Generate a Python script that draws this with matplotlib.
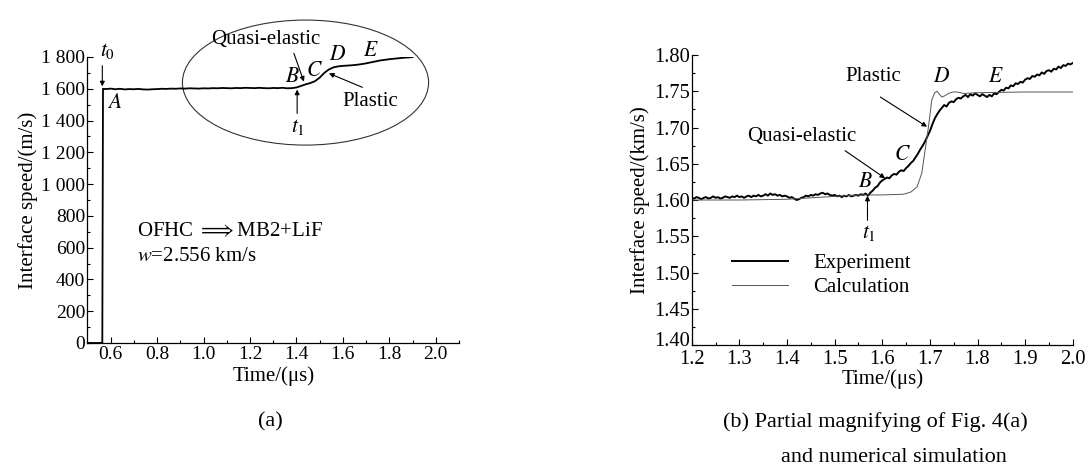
import numpy as np
import matplotlib
matplotlib.use("Agg")
import matplotlib.pyplot as plt
import matplotlib.transforms as mtransforms
from matplotlib.patches import Ellipse
from matplotlib.ticker import MultipleLocator, FixedLocator, FixedFormatter

plt.rcParams['font.family'] = ['Liberation Serif', 'DejaVu Serif']
plt.rcParams['mathtext.fontset'] = 'stix'

# ---------------- data: panel (a) ----------------
time_a = [0.50, 0.564, 0.567,
          0.58, 0.60, 0.62, 0.64, 0.66, 0.68, 0.70, 0.72, 0.74, 0.76, 0.78,
          0.80, 0.82, 0.84, 0.86, 0.88, 0.90, 0.92, 0.94, 0.96, 0.98,
          1.00, 1.02, 1.04, 1.06, 1.08, 1.10, 1.12, 1.14, 1.16, 1.18,
          1.20, 1.22, 1.24, 1.26, 1.28, 1.30, 1.32, 1.34, 1.36, 1.38,
          1.40, 1.42, 1.44, 1.46, 1.48, 1.50, 1.52, 1.54, 1.56, 1.58,
          1.60, 1.62, 1.64, 1.66, 1.68, 1.70, 1.72, 1.74, 1.76, 1.78,
          1.80, 1.82, 1.84, 1.86, 1.88, 1.90]
speed_a = [0, 0, 1600,
           1598, 1601, 1597, 1600, 1596, 1598, 1597, 1599, 1596, 1595, 1597,
           1598, 1600, 1599, 1601, 1600, 1602, 1601, 1603, 1602, 1601,
           1603, 1602, 1604, 1603, 1605, 1604, 1603, 1605, 1604, 1606,
           1605, 1604, 1606, 1604, 1603, 1605, 1604, 1606, 1603, 1604,
           1608, 1618, 1628, 1636, 1648, 1670, 1700, 1722, 1735, 1741,
           1744, 1746, 1748, 1751, 1755, 1760, 1766, 1772, 1778, 1782,
           1786, 1789, 1792, 1795, 1797, 1799]
yticks_a = [0, 200, 400, 600, 800, 1000, 1200, 1400, 1600, 1800]
ylabels_a = ['0', '200', '400', '600', '800', '1 000', '1 200', '1 400', '1 600', '1 800']
xticks_a = [0.6, 0.8, 1.0, 1.2, 1.4, 1.6, 1.8, 2.0]
xlabels_a = ['0.6', '0.8', '1.0', '1.2', '1.4', '1.6', '1.8', '2.0']

# ---------------- data: panel (b) ----------------
time_b = np.linspace(1.2, 2.0, 161)
experiment_b = [
    1.603, 1.602, 1.604, 1.603, 1.601, 1.603, 1.604, 1.602, 1.603, 1.605, 1.603,
    1.604, 1.602, 1.603, 1.605, 1.604, 1.603, 1.605, 1.604, 1.606, 1.604,
    1.605, 1.603, 1.605, 1.606, 1.604, 1.606, 1.605, 1.607, 1.605, 1.606,
    1.608, 1.606, 1.609, 1.607, 1.608, 1.606, 1.607, 1.605, 1.606, 1.605,
    1.603, 1.604, 1.602, 1.600, 1.601, 1.603, 1.604, 1.606, 1.605, 1.607,
    1.606, 1.608, 1.607, 1.609, 1.610, 1.608, 1.609, 1.607, 1.606, 1.607,
    1.605, 1.606, 1.604, 1.606, 1.605, 1.607, 1.605, 1.606, 1.607, 1.606,
    1.608, 1.607, 1.609, 1.606, 1.610, 1.613, 1.617, 1.619, 1.624, 1.627,
    1.629, 1.631, 1.630, 1.634, 1.636, 1.635, 1.639, 1.641, 1.640, 1.644,
    1.647, 1.651, 1.654, 1.659, 1.664, 1.670, 1.675, 1.681, 1.688, 1.695,
    1.704, 1.712, 1.718, 1.723, 1.727, 1.731, 1.729, 1.734, 1.736, 1.735,
    1.739, 1.741, 1.740, 1.743, 1.745, 1.742, 1.746, 1.744, 1.747, 1.745,
    1.743, 1.746, 1.744, 1.742, 1.745, 1.743, 1.747, 1.746, 1.749, 1.752,
    1.751, 1.755, 1.754, 1.758, 1.757, 1.761, 1.760, 1.763, 1.762, 1.766,
    1.768, 1.767, 1.771, 1.770, 1.773, 1.772, 1.776, 1.774, 1.778, 1.779,
    1.777, 1.781, 1.780, 1.784, 1.782, 1.786, 1.785, 1.788, 1.787, 1.789]
time_calc = [1.20, 1.30, 1.40, 1.45, 1.50, 1.55, 1.60, 1.645, 1.66, 1.673,
             1.683, 1.690, 1.697, 1.704, 1.710, 1.715, 1.720, 1.725, 1.732,
             1.739, 1.748, 1.757, 1.771, 1.80, 1.90, 2.00]
calc_b = [1.600, 1.600, 1.601, 1.603, 1.605, 1.607, 1.607, 1.608, 1.611, 1.618,
          1.637, 1.669, 1.701, 1.738, 1.748, 1.750, 1.746, 1.742, 1.744,
          1.747, 1.749, 1.749, 1.747, 1.748, 1.749, 1.749]
yticks_b = [1.40, 1.45, 1.50, 1.55, 1.60, 1.65, 1.70, 1.75, 1.80]
ylabels_b = ['1.40', '1.45', '1.50', '1.55', '1.60', '1.65', '1.70', '1.75', '1.80']
xticks_b = [1.2, 1.3, 1.4, 1.5, 1.6, 1.7, 1.8, 1.9, 2.0]
xlabels_b = ['1.2', '1.3', '1.4', '1.5', '1.6', '1.7', '1.8', '1.9', '2.0']

FSA = 14          # tick labels, panel (a)
FSB = 14.8        # tick labels, panel (b)
FL = 15           # axis labels / annotations
FI = 15.5         # italic letters
fig = plt.figure(figsize=(10.89, 4.71), dpi=100)

def style(ax, fs, xpad):
    for s in ['top', 'right']:
        ax.spines[s].set_visible(False)
    for s in ['left', 'bottom']:
        ax.spines[s].set_linewidth(0.9)
    ax.tick_params(which='both', direction='in', labelsize=fs, width=0.8)
    ax.tick_params(axis='y', which='both', pad=1.5)
    ax.tick_params(axis='x', which='both', pad=xpad)
    ax.tick_params(which='major', length=4)
    ax.tick_params(which='minor', length=2.5)

arrow = dict(arrowstyle='-|>', color='black', lw=0.8, mutation_scale=7,
             shrinkA=0, shrinkB=0)

# ---------------- panel (a) ----------------
ax1 = fig.add_axes([0.0803, 0.2718, 0.3412, 0.6072])
ax1.plot(time_a, speed_a, color='black', lw=1.3)
ax1.set_xlim(0.5, 2.1)
ax1.set_ylim(0, 1800)
ax1.yaxis.set_major_locator(FixedLocator(yticks_a))
ax1.yaxis.set_major_formatter(FixedFormatter(ylabels_a))
ax1.yaxis.set_minor_locator(MultipleLocator(100))
ax1.xaxis.set_major_locator(FixedLocator(xticks_a))
ax1.xaxis.set_major_formatter(FixedFormatter(xlabels_a))
ax1.xaxis.set_minor_locator(MultipleLocator(0.1))
style(ax1, FSA, 2.5)
ax1.set_xlabel('Time/(μs)', fontsize=FL, labelpad=2)
ax1.set_ylabel('Interface speed/(m/s)', fontsize=FL, labelpad=2)

ell = Ellipse((1.439, 1639), 1.060, 787, fill=False, edgecolor='#333333',
              lw=0.8, clip_on=False)
ax1.add_patch(ell)

ax1.annotate('', xy=(0.564, 1615), xytext=(0.564, 1745), arrowprops=arrow,
             annotation_clip=False)
ax1.text(0.585, 1835, r'$t_0$', fontsize=FI, ha='center', va='center')
ax1.text(0.619, 1508, r'$A$', fontsize=FI, ha='center', va='center')
ax1.text(1.266, 1907, 'Quasi-elastic', fontsize=FL, ha='center', va='center')
ax1.annotate('', xy=(1.432, 1645), xytext=(1.389, 1823), arrowprops=arrow,
             annotation_clip=False)
ax1.text(1.382, 1672, r'$B$', fontsize=FI, ha='center', va='center')
ax1.text(1.478, 1708, r'$C$', fontsize=FI, ha='center', va='center')
ax1.text(1.576, 1812, r'$D$', fontsize=FI, ha='center', va='center')
ax1.text(1.720, 1833, r'$E$', fontsize=FI, ha='center', va='center')
ax1.text(1.717, 1519, 'Plastic', fontsize=FL, ha='center', va='center')
ax1.annotate('', xy=(1.540, 1697), xytext=(1.684, 1609), arrowprops=arrow,
             annotation_clip=False)
ax1.annotate('', xy=(1.403, 1595), xytext=(1.403, 1445), arrowprops=arrow,
             annotation_clip=False)
ax1.text(1.408, 1361, r'$t_1$', fontsize=FI, ha='center', va='center')
ax1.text(0.712, 700, r'OFHC $\Longrightarrow$MB2+LiF', fontsize=FL,
         ha='left', va='center')
ax1.text(0.712, 543, r'$w$=2.556 km/s', fontsize=FL, ha='left', va='center')

# ---------------- panel (b) ----------------
ax2 = fig.add_axes([0.6352, 0.2675, 0.3499, 0.6157])
ax2.plot(time_b, experiment_b, color='black', lw=1.4, label='Experiment')
ax2.plot(time_calc, calc_b, color='#555555', lw=0.7, label='Calculation')
ax2.set_xlim(1.2, 2.0)
ax2.set_ylim(1.40, 1.80)
ax2.yaxis.set_major_locator(FixedLocator(yticks_b))
ax2.yaxis.set_major_formatter(FixedFormatter(ylabels_b))
ax2.yaxis.set_minor_locator(MultipleLocator(0.025))
ax2.xaxis.set_major_locator(FixedLocator(xticks_b))
ax2.xaxis.set_major_formatter(FixedFormatter(xlabels_b))
ax2.xaxis.set_minor_locator(MultipleLocator(0.05))
style(ax2, FSB, 3.5)
ax2.set_xlabel('Time/(μs)', fontsize=FL, labelpad=0.5)
ax2.set_ylabel('Interface speed/(km/s)', fontsize=FL, labelpad=3)

# the lowest y label sits slightly raised in the reference
fig.canvas.draw()
lab0 = ax2.get_yticklabels()[0]
lab0.set_transform(lab0.get_transform() +
                   mtransforms.ScaledTranslation(0, 4.5 / 72, fig.dpi_scale_trans))

ax2.text(1.582, 1.770, 'Plastic', fontsize=FL, ha='center', va='center')
ax2.annotate('', xy=(1.694, 1.701), xytext=(1.596, 1.742), arrowprops=arrow)
ax2.text(1.725, 1.769, r'$D$', fontsize=FI, ha='center', va='center')
ax2.text(1.839, 1.769, r'$E$', fontsize=FI, ha='center', va='center')
ax2.text(1.431, 1.687, 'Quasi-elastic', fontsize=FL, ha='center', va='center')
ax2.annotate('', xy=(1.606, 1.630), xytext=(1.522, 1.668), arrowprops=arrow)
ax2.text(1.564, 1.624, r'$B$', fontsize=FI, ha='center', va='center')
ax2.text(1.643, 1.662, r'$C$', fontsize=FI, ha='center', va='center')
ax2.annotate('', xy=(1.569, 1.606), xytext=(1.569, 1.572), arrowprops=arrow)
ax2.text(1.573, 1.554, r'$t_1$', fontsize=FI, ha='center', va='center')

ax2.legend(loc='upper left', bbox_to_anchor=(0.105, 0.315), frameon=False,
           fontsize=FL, handlelength=2.7, handletextpad=1.2, labelspacing=0.2,
           borderpad=0, borderaxespad=0)

# ---------------- captions ----------------
fig.text(270 / 1089, 1 - 422 / 471, '(a)', fontsize=16, ha='center',
         va='center')
fig.text(875 / 1089, 1 - 422 / 471, '(b) Partial magnifying of Fig. 4(a)',
         fontsize=16, ha='center', va='center')
fig.text(894 / 1089, 1 - 458 / 471, 'and numerical simulation',
         fontsize=16, ha='center', va='center')

fig.savefig('out.png', dpi=100)
